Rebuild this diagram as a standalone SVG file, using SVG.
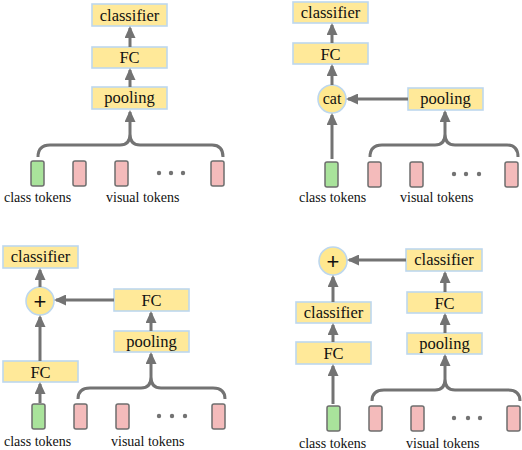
<svg xmlns="http://www.w3.org/2000/svg" width="522" height="450" viewBox="0 0 522 450">
<defs>
<marker id="ah" markerUnits="userSpaceOnUse" markerWidth="13" markerHeight="11" refX="10" refY="5.5" orient="auto">
<path d="M0,0 L12,5.5 L0,11 z" fill="#737373"/>
</marker>
<style>
.box{fill:#FFE999;stroke:#BDD7EE;stroke-width:1.6}
.circ{fill:#FFE88F;stroke:#BDD7EE;stroke-width:1.6}
.bt{font-family:'Liberation Serif','Times New Roman',Tinos,'DejaVu Serif','Noto Serif',serif;font-size:16.5px;fill:#111;text-anchor:middle}
.lb{font-family:'Liberation Serif','Times New Roman',Tinos,'DejaVu Serif','Noto Serif',serif;font-size:14px;fill:#111}
.ar{stroke:#737373;stroke-width:3;fill:none;marker-end:url(#ah)}
.br{stroke:#737373;stroke-width:3;fill:none}
.g{fill:#A9E39B;stroke:#6E6E6E;stroke-width:1.5}
.p{fill:#F4BBBB;stroke:#6E6E6E;stroke-width:1.5}
.dot{fill:#737373}
.pl{font-family:'Liberation Sans',Arial,sans-serif;font-size:22px;fill:#111;text-anchor:middle}
</style>
</defs>
<rect width="522" height="450" fill="#fff"/>

<!-- Panel 1 -->
<g id="p1-classifier"><rect class="box" x="92" y="4" width="75" height="22"/><text class="bt" x="129.5" y="21">classifier</text></g>
<g id="p1-fc"><rect class="box" x="92" y="47" width="75" height="21"/><text class="bt" x="129.5" y="63">FC</text></g>
<g id="p1-pooling"><rect class="box" x="92" y="87" width="75" height="22"/><text class="bt" x="129.5" y="103">pooling</text></g>
<g id="p1-tokens">
<rect class="g" x="31" y="161" width="13" height="25" rx="2"/>
<rect class="p" x="73" y="161" width="13" height="25" rx="2"/>
<rect class="p" x="115" y="161" width="13" height="25" rx="2"/>
<rect class="p" x="211" y="161" width="13" height="25" rx="2"/>
<circle class="dot" cx="159" cy="173" r="2.2"/><circle class="dot" cx="171" cy="173" r="2.2"/><circle class="dot" cx="183" cy="173" r="2.2"/>
<text class="lb" x="4" y="202">class tokens</text>
<text class="lb" x="106" y="202">visual tokens</text>
</g>

<!-- Panel 2 -->
<g id="p2-classifier"><rect class="box" x="293" y="2" width="75" height="21"/><text class="bt" x="330.5" y="18">classifier</text></g>
<g id="p2-fc"><rect class="box" x="293" y="43" width="75" height="21"/><text class="bt" x="330.5" y="59.5">FC</text></g>
<g id="p2-cat"><circle class="circ" cx="332" cy="99" r="14"/><text class="bt" x="332" y="104" style="font-size:16px">cat</text></g>
<g id="p2-pooling"><rect class="box" x="408" y="88" width="75" height="22"/><text class="bt" x="445.5" y="104">pooling</text></g>
<g id="p2-tokens">
<rect class="g" x="325" y="162" width="13" height="25" rx="2"/>
<rect class="p" x="368" y="162" width="13" height="25" rx="2"/>
<rect class="p" x="410" y="162" width="13" height="25" rx="2"/>
<rect class="p" x="505" y="162" width="13" height="25" rx="2"/>
<circle class="dot" cx="454" cy="174" r="2.2"/><circle class="dot" cx="466" cy="174" r="2.2"/><circle class="dot" cx="479" cy="174" r="2.2"/>
<text class="lb" x="299" y="202">class tokens</text>
<text class="lb" x="400" y="202">visual tokens</text>
</g>

<!-- Panel 3 -->
<g id="p3-classifier"><rect class="box" x="3" y="246" width="75" height="22"/><text class="bt" x="40.5" y="262">classifier</text></g>
<g id="p3-plus"><circle class="circ" cx="40" cy="301" r="14"/><text class="pl" x="40" y="309">+</text></g>
<g id="p3-fc-right"><rect class="box" x="114" y="289" width="75" height="22"/><text class="bt" x="151.5" y="306">FC</text></g>
<g id="p3-pooling"><rect class="box" x="114" y="331" width="75" height="21"/><text class="bt" x="151.5" y="347">pooling</text></g>
<g id="p3-fc-left"><rect class="box" x="3" y="361" width="75" height="21"/><text class="bt" x="40.5" y="377.5">FC</text></g>
<g id="p3-tokens">
<rect class="g" x="32" y="404" width="13" height="25" rx="2"/>
<rect class="p" x="74" y="404" width="13" height="25" rx="2"/>
<rect class="p" x="116" y="404" width="13" height="25" rx="2"/>
<rect class="p" x="212" y="404" width="13" height="25" rx="2"/>
<circle class="dot" cx="159" cy="416" r="2.2"/><circle class="dot" cx="172" cy="416" r="2.2"/><circle class="dot" cx="185" cy="416" r="2.2"/>
<text class="lb" x="4" y="446">class tokens</text>
<text class="lb" x="111" y="446">visual tokens</text>
</g>

<!-- Panel 4 -->
<g id="p4-plus"><circle class="circ" cx="333" cy="261" r="14"/><text class="pl" x="333" y="269">+</text></g>
<g id="p4-classifier-right"><rect class="box" x="406" y="249" width="76" height="22"/><text class="bt" x="444" y="265">classifier</text></g>
<g id="p4-fc-right"><rect class="box" x="407" y="292" width="75" height="21"/><text class="bt" x="444.5" y="308.5">FC</text></g>
<g id="p4-pooling"><rect class="box" x="407" y="333" width="75" height="21"/><text class="bt" x="444.5" y="349">pooling</text></g>
<g id="p4-classifier-left"><rect class="box" x="296" y="302" width="75" height="21"/><text class="bt" x="333.5" y="318">classifier</text></g>
<g id="p4-fc-left"><rect class="box" x="296" y="342" width="75" height="22"/><text class="bt" x="333.5" y="359">FC</text></g>
<g id="p4-tokens">
<rect class="g" x="327" y="406" width="13" height="25" rx="2"/>
<rect class="p" x="369" y="406" width="13" height="25" rx="2"/>
<rect class="p" x="411" y="406" width="13" height="25" rx="2"/>
<rect class="p" x="507" y="406" width="13" height="25" rx="2"/>
<circle class="dot" cx="454" cy="418" r="2.2"/><circle class="dot" cx="468" cy="418" r="2.2"/><circle class="dot" cx="480" cy="418" r="2.2"/>
<text class="lb" x="299" y="448">class tokens</text>
<text class="lb" x="406" y="448">visual tokens</text>
</g>

<g id="connectors">
<!-- panel 1 -->
<line class="ar" x1="130" y1="47" x2="130" y2="28"/>
<line class="ar" x1="130" y1="87" x2="130" y2="70"/>
<line class="ar" x1="130" y1="134" x2="130" y2="112"/>
<path class="br" d="M38,157 Q38,145 50,145 L120,145 Q130,145 130,134 Q130,145 140,145 L212,145 Q223,145 223,157"/>
<!-- panel 2 -->
<line class="ar" x1="332" y1="43" x2="332" y2="25"/>
<line class="ar" x1="332" y1="85" x2="332" y2="66"/>
<line class="ar" x1="332" y1="159" x2="332" y2="115"/>
<line class="ar" x1="408" y1="99" x2="348" y2="99"/>
<line class="ar" x1="445" y1="134" x2="445" y2="112"/>
<path class="br" d="M370,157 Q370,145 382,145 L435,145 Q445,145 445,134 Q445,145 455,145 L507,145 Q518,145 518,157"/>
<!-- panel 3 -->
<line class="ar" x1="40" y1="287" x2="40" y2="270"/>
<line class="ar" x1="114" y1="300" x2="56" y2="300"/>
<line class="ar" x1="40" y1="361" x2="40" y2="317"/>
<line class="ar" x1="40" y1="403" x2="40" y2="384"/>
<line class="ar" x1="151" y1="331" x2="151" y2="313"/>
<line class="ar" x1="151" y1="377" x2="151" y2="354"/>
<path class="br" d="M78,399 Q78,388 90,388 L141,388 Q151,388 151,377 Q151,388 161,388 L213,388 Q225,388 225,399"/>
<!-- panel 4 -->
<line class="ar" x1="406" y1="260" x2="349" y2="260"/>
<line class="ar" x1="333" y1="302" x2="333" y2="277"/>
<line class="ar" x1="333" y1="342" x2="333" y2="325"/>
<line class="ar" x1="333" y1="404" x2="333" y2="366"/>
<line class="ar" x1="445" y1="292" x2="445" y2="273"/>
<line class="ar" x1="445" y1="333" x2="445" y2="315"/>
<line class="ar" x1="445" y1="379" x2="445" y2="356"/>
<path class="br" d="M372,401 Q372,390 384,390 L435,390 Q445,390 445,379 Q445,390 455,390 L508,390 Q520,390 520,401"/>
</g>
</svg>
